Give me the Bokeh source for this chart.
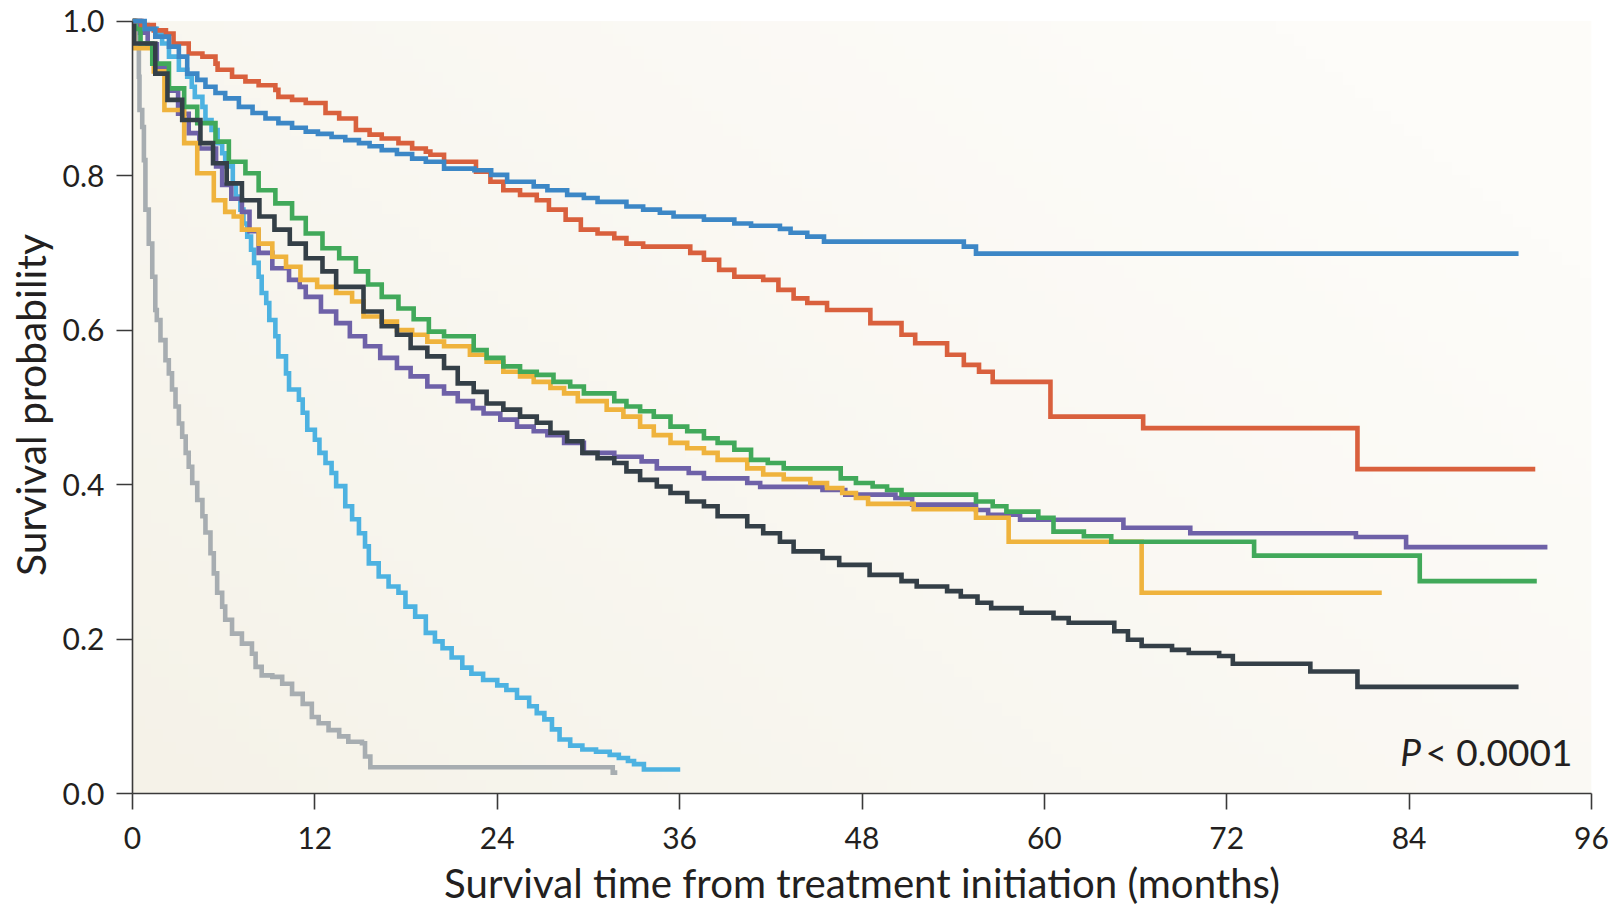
import numpy as np
from bokeh.plotting import figure
from bokeh.models import FixedTicker, Range1d, Label, PrintfTickFormatter
from bokeh.embed import file_html
from bokeh.resources import INLINE

# ---------------- data ----------------
x_ticks = [0, 12, 24, 36, 48, 60, 72, 84, 96]
y_ticks = [0.0, 0.2, 0.4, 0.6, 0.8, 1.0]
x_label = "Survival time from treatment initiation (months)"
y_label = "Survival probability"
p_italic = "P"
p_rest = "< 0.0001"

# Kaplan-Meier step points: (months, survival probability)
km_blue = [(0, 1.0), (0.8, 0.99), (1.5, 0.98), (2.4, 0.967), (3.05, 0.954), (3.6, 0.932),
           (4.26, 0.924), (4.8, 0.915), (5.46, 0.907), (6.1, 0.900), (7.0, 0.889), (7.9, 0.881),
           (8.75, 0.874), (9.6, 0.868), (10.5, 0.862), (11.4, 0.857), (12.2, 0.854), (13.1, 0.850),
           (14.0, 0.846), (14.9, 0.842), (15.6, 0.838), (16.4, 0.833), (17.4, 0.828), (18.4, 0.822),
           (19.3, 0.818), (20.5, 0.809), (22.5, 0.807), (23.6, 0.801), (24.65, 0.792), (26.4, 0.786),
           (27.3, 0.781), (28.6, 0.775), (29.7, 0.771), (30.6, 0.766), (32.5, 0.760), (33.6, 0.756),
           (34.7, 0.752), (35.6, 0.747), (37.6, 0.743), (39.6, 0.738), (40.7, 0.735), (42.6, 0.731),
           (43.3, 0.726), (44.4, 0.721), (45.5, 0.7145), (54.7, 0.708), (55.5, 0.699), (91.2, 0.699)]

km_red = [(0, 1.0), (0.6, 0.995), (1.4, 0.988), (2.2, 0.984), (2.7, 0.971), (3.7, 0.958), (4.6, 0.954),
          (5.46, 0.945), (5.6, 0.937), (6.55, 0.928), (7.43, 0.922), (8.3, 0.917), (9.4, 0.911),
          (9.6, 0.902), (10.5, 0.898), (11.4, 0.894), (12.7, 0.881), (13.6, 0.874), (14.7, 0.859),
          (15.6, 0.853), (16.4, 0.848), (17.5, 0.842), (18.4, 0.835), (19.3, 0.831), (19.6, 0.827),
          (20.5, 0.818), (22.6, 0.805), (23.55, 0.792), (24.4, 0.781), (25.5, 0.775), (26.6, 0.768),
          (27.4, 0.756), (28.5, 0.743), (29.5, 0.730), (30.6, 0.725), (31.7, 0.719), (32.5, 0.712),
          (33.6, 0.708), (36.7, 0.700), (37.6, 0.691), (38.6, 0.678), (39.6, 0.669), (41.5, 0.665),
          (42.5, 0.652), (43.5, 0.641), (44.4, 0.635), (45.7, 0.626), (48.55, 0.609), (50.6, 0.594),
          (51.5, 0.583), (53.6, 0.568), (54.7, 0.555), (55.7, 0.546), (56.6, 0.533), (60.4, 0.488),
          (66.5, 0.473), (80.6, 0.420), (92.3, 0.420)]

km_green = [(0, 1.0), (0.2, 0.99), (0.53, 0.971), (1.3, 0.945), (2.4, 0.913), (3.4, 0.889), (4.26, 0.868),
            (5.46, 0.844), (6.34, 0.818), (7.43, 0.803), (8.3, 0.781), (9.4, 0.764), (10.5, 0.745),
            (11.4, 0.725), (12.5, 0.706), (13.6, 0.693), (14.7, 0.676), (15.5, 0.659), (16.4, 0.643),
            (17.5, 0.628), (18.5, 0.614), (19.5, 0.598), (20.5, 0.592), (22.45, 0.574), (23.3, 0.564),
            (24.4, 0.553), (25.5, 0.546), (26.6, 0.542), (27.7, 0.533), (28.8, 0.527), (29.7, 0.518),
            (31.7, 0.508), (32.5, 0.501), (33.4, 0.495), (34.3, 0.488), (35.4, 0.475), (36.5, 0.469),
            (37.6, 0.460), (38.5, 0.454), (39.6, 0.445), (40.7, 0.432), (41.8, 0.428), (42.85, 0.421),
            (46.6, 0.408), (47.6, 0.402), (48.7, 0.3975), (49.65, 0.393), (50.6, 0.387), (55.5, 0.378),
            (56.6, 0.372), (57.5, 0.365), (59.6, 0.357), (60.6, 0.339), (62.6, 0.333), (64.4, 0.326),
            (73.8, 0.308), (84.7, 0.275), (92.4, 0.275)]

km_yellow = [(0, 1.0), (0.1, 0.965), (1.4, 0.935), (2.1, 0.885), (3.4, 0.842), (4.26, 0.803), (5.35, 0.768),
             (6.1, 0.753), (6.66, 0.747), (7.2, 0.730), (8.3, 0.712), (9.2, 0.695), (10.1, 0.682),
             (11.05, 0.665), (12.15, 0.656), (13.4, 0.648), (14.45, 0.637), (15.2, 0.6175), (16.4, 0.611),
             (17.4, 0.600), (18.4, 0.594), (19.4, 0.585), (20.5, 0.579), (22.2, 0.568), (23.3, 0.559),
             (24.4, 0.546), (25.5, 0.540), (26.4, 0.533), (27.5, 0.525), (28.4, 0.518), (29.3, 0.508),
             (31.2, 0.497), (32.3, 0.488), (33.4, 0.475), (34.3, 0.464), (35.4, 0.454), (36.5, 0.447),
             (37.6, 0.441), (38.5, 0.432), (40.45, 0.421), (41.5, 0.413), (42.85, 0.407), (44.6, 0.402),
             (45.7, 0.3955), (46.7, 0.389), (47.6, 0.3825), (48.4, 0.375), (51.4, 0.368), (55.5, 0.357),
             (57.65, 0.326), (66.4, 0.260), (82.2, 0.260)]

km_dark = [(0, 1.0), (0.1, 0.971), (1.5, 0.932), (2.3, 0.898), (3.27, 0.872), (4.47, 0.842), (5.3, 0.816),
           (6.2, 0.790), (7.2, 0.768), (8.35, 0.747), (9.34, 0.730), (10.35, 0.712), (11.4, 0.693),
           (12.5, 0.676), (13.4, 0.656), (15.2, 0.624), (16.4, 0.605), (17.4, 0.594), (18.3, 0.577),
           (19.4, 0.566), (20.5, 0.551), (21.4, 0.531), (22.45, 0.520), (23.3, 0.505), (24.4, 0.497),
           (25.5, 0.488), (26.6, 0.480), (27.5, 0.467), (28.6, 0.456), (29.6, 0.441), (30.6, 0.434),
           (31.7, 0.428), (32.5, 0.417), (33.4, 0.406), (34.5, 0.3975), (35.4, 0.389), (36.5, 0.378),
           (37.6, 0.372), (38.5, 0.359), (40.45, 0.346), (41.5, 0.337), (42.6, 0.326), (43.5, 0.3135),
           (45.4, 0.305), (46.5, 0.296), (48.5, 0.283), (50.6, 0.275), (51.6, 0.268), (53.6, 0.262),
           (54.5, 0.255), (55.6, 0.247), (56.5, 0.240), (58.5, 0.234), (60.6, 0.227), (61.6, 0.221),
           (64.6, 0.210), (65.5, 0.199), (66.4, 0.191), (68.4, 0.186), (69.5, 0.182), (71.5, 0.178),
           (72.4, 0.168), (77.5, 0.158), (80.6, 0.138), (91.2, 0.138)]

km_purple = [(0, 1.0), (0.5, 0.985), (1.0, 0.97), (1.6, 0.94), (2.3, 0.91), (3.0, 0.88), (3.7, 0.855),
             (4.4, 0.835), (5.5, 0.812), (5.9, 0.788), (6.5, 0.770), (7.2, 0.753), (7.7, 0.728),
             (8.3, 0.700), (9.2, 0.680), (10.3, 0.665), (11.0, 0.656), (11.4, 0.643), (12.4, 0.624),
             (13.4, 0.609), (14.3, 0.592), (15.3, 0.579), (16.3, 0.564), (17.4, 0.551), (18.3, 0.540),
             (19.4, 0.527), (20.5, 0.518), (21.4, 0.508), (22.4, 0.499), (23.1, 0.492), (24.2, 0.484),
             (25.3, 0.475), (26.4, 0.469), (27.3, 0.464), (28.4, 0.454), (29.7, 0.441), (31.7, 0.436),
             (33.5, 0.430), (34.5, 0.421), (36.6, 0.415), (37.6, 0.408), (40.45, 0.402), (41.3, 0.397),
             (45.4, 0.393), (46.9, 0.387), (50.2, 0.3825), (51.3, 0.374), (55.5, 0.367), (56.3, 0.361),
             (58.4, 0.3545), (65.2, 0.344), (69.6, 0.337), (80.5, 0.332), (83.8, 0.319), (93.1, 0.319)]

km_light_blue = [(0, 1.0), (0.5, 0.995), (1.0, 0.99), (1.6, 0.984), (1.95, 0.971), (2.4, 0.954), (3.05, 0.937),
                 (3.6, 0.928), (3.9, 0.915), (4.1, 0.902), (4.6, 0.889), (4.8, 0.872), (5.2, 0.859),
                 (5.6, 0.842), (5.9, 0.829), (6.1, 0.812), (6.6, 0.790), (6.8, 0.773), (7.1, 0.756),
                 (7.3, 0.738), (7.55, 0.721), (7.8, 0.704), (8.0, 0.687), (8.3, 0.669), (8.5, 0.648),
                 (8.8, 0.635), (9.0, 0.613), (9.4, 0.592), (9.6, 0.566), (10.1, 0.544), (10.3, 0.523),
                 (10.95, 0.510), (11.2, 0.493), (11.5, 0.471), (12.0, 0.458), (12.3, 0.441), (12.7, 0.428),
                 (13.1, 0.415), (13.4, 0.398), (14.0, 0.372), (14.45, 0.355), (14.9, 0.337), (15.3, 0.320),
                 (15.55, 0.298), (16.2, 0.281), (16.85, 0.268), (17.5, 0.260), (17.96, 0.242), (18.6, 0.229),
                 (19.3, 0.208), (19.9, 0.197), (20.4, 0.188), (21.0, 0.176), (21.7, 0.163), (22.3, 0.155),
                 (23.07, 0.147), (24.0, 0.140), (24.6, 0.134), (25.3, 0.124), (26.1, 0.113), (26.6, 0.104),
                 (27.1, 0.096), (27.6, 0.083), (28.1, 0.070), (28.8, 0.062), (29.6, 0.057), (30.5, 0.054),
                 (31.4, 0.050), (32.0, 0.046), (32.6, 0.042), (33.0, 0.038), (33.65, 0.031), (36.04, 0.031)]

km_gray = [(0, 1.0), (0.15, 0.985), (0.3, 0.967), (0.42, 0.928), (0.46, 0.885), (0.64, 0.863), (0.75, 0.820),
           (0.85, 0.756), (1.07, 0.712), (1.3, 0.669), (1.5, 0.626), (1.6, 0.613), (1.84, 0.587),
           (2.17, 0.561), (2.39, 0.544), (2.6, 0.523), (2.83, 0.501), (3.05, 0.479), (3.27, 0.462),
           (3.5, 0.441), (3.7, 0.423), (3.93, 0.402), (4.26, 0.380), (4.6, 0.359), (4.8, 0.338),
           (5.13, 0.311), (5.35, 0.285), (5.57, 0.260), (5.9, 0.242), (6.1, 0.225), (6.55, 0.207),
           (7.2, 0.194), (7.86, 0.181), (8.1, 0.164), (8.5, 0.153), (9.2, 0.151), (9.85, 0.142),
           (10.5, 0.129), (11.2, 0.116), (11.8, 0.099), (12.25, 0.091), (12.9, 0.082), (13.6, 0.074),
           (14.2, 0.067), (15.1, 0.065), (15.3, 0.048), (15.65, 0.034), (31.6, 0.027), (31.9, 0.027)]

# drawing order (bottom to top) and colours
series = [
    (km_gray, "#a7adb1"),
    (km_light_blue, "#4db2e1"),
    (km_purple, "#6e61a8"),
    (km_yellow, "#efb33d"),
    (km_green, "#41a95a"),
    (km_dark, "#343f47"),
    (km_red, "#d9603d"),
    (km_blue, "#3c87c6"),
]

# ---------------- figure ----------------
FONT = "Lato"
TXT = "#231f20"

p = figure(width=1614, height=909, output_backend="svg", toolbar_location=None,
           x_range=Range1d(x_ticks[0], x_ticks[-1]), y_range=Range1d(y_ticks[0], 1.006),
           min_border_left=132, min_border_right=23, min_border_top=16, min_border_bottom=115)

p.background_fill_color = "white"
p.border_fill_color = "white"
p.outline_line_color = None
p.xgrid.visible = False
p.ygrid.visible = False

# subtle beige-to-white panel background
ny, nx = 60, 240
gx, gy = np.meshgrid(np.linspace(0, 1, nx), np.linspace(0, 1, ny))
f = np.clip(0.7 * gx + 0.45 * gy, 0, 1) ** 0.9
beige = np.array([245, 242, 232])
white = np.array([253, 252, 249])
img = np.zeros((ny, nx), dtype=np.uint32)
view = img.view(dtype=np.uint8).reshape((ny, nx, 4))
for c in range(3):
    view[:, :, c] = (beige[c] + (white[c] - beige[c]) * f).astype(np.uint8)
view[:, :, 3] = 255
p.image_rgba(image=[img], x=x_ticks[0], y=y_ticks[0],
             dw=x_ticks[-1] - x_ticks[0], dh=y_ticks[-1] - y_ticks[0])

for pts, col in series:
    t = [a for a, b in pts]
    s = [b for a, b in pts]
    p.step(x=t, y=s, mode="after", line_width=4.6, line_color=col, line_join="miter")

# axes
for ax in (p.xaxis, p.yaxis):
    ax.axis_line_color = "#3a3a3a"
    ax.axis_line_width = 1.6
    ax.major_tick_line_color = "#3a3a3a"
    ax.major_tick_line_width = 1.6
    ax.major_tick_out = 16
    ax.major_tick_in = 0
    ax.minor_tick_out = 0
    ax.minor_tick_in = 0
    ax.major_label_text_font = FONT
    ax.major_label_text_font_size = "30px"
    ax.major_label_text_color = TXT
    ax.axis_label_text_font = FONT
    ax.axis_label_text_font_style = "normal"
    ax.axis_label_text_color = TXT

p.xaxis.axis_label_text_font_size = "40.2px"
p.yaxis.axis_label_text_font_size = "40.8px"
p.xaxis.ticker = FixedTicker(ticks=x_ticks)
p.yaxis.ticker = FixedTicker(ticks=y_ticks)
p.yaxis.formatter = PrintfTickFormatter(format="%.1f")
p.xaxis.bounds = (x_ticks[0], x_ticks[-1])
p.yaxis.bounds = (y_ticks[0], y_ticks[-1])
p.xaxis.axis_label = x_label
p.yaxis.axis_label = y_label
p.xaxis.major_label_standoff = 17
p.yaxis.major_label_standoff = 12
p.xaxis.axis_label_standoff = 6
p.yaxis.axis_label_standoff = 5

# P value annotation
p.add_layout(Label(x=83.42, y=0.055, text=p_italic, text_font=FONT, text_font_size="37px",
                   text_font_style="italic", text_color=TXT, text_baseline="alphabetic",
                   text_align="left"))
p.add_layout(Label(x=94.74, y=0.055, text=p_rest, text_font=FONT, text_font_size="37px",
                   text_color=TXT, text_baseline="alphabetic", text_align="right"))

open("out.html", "w").write(file_html(p, INLINE))
